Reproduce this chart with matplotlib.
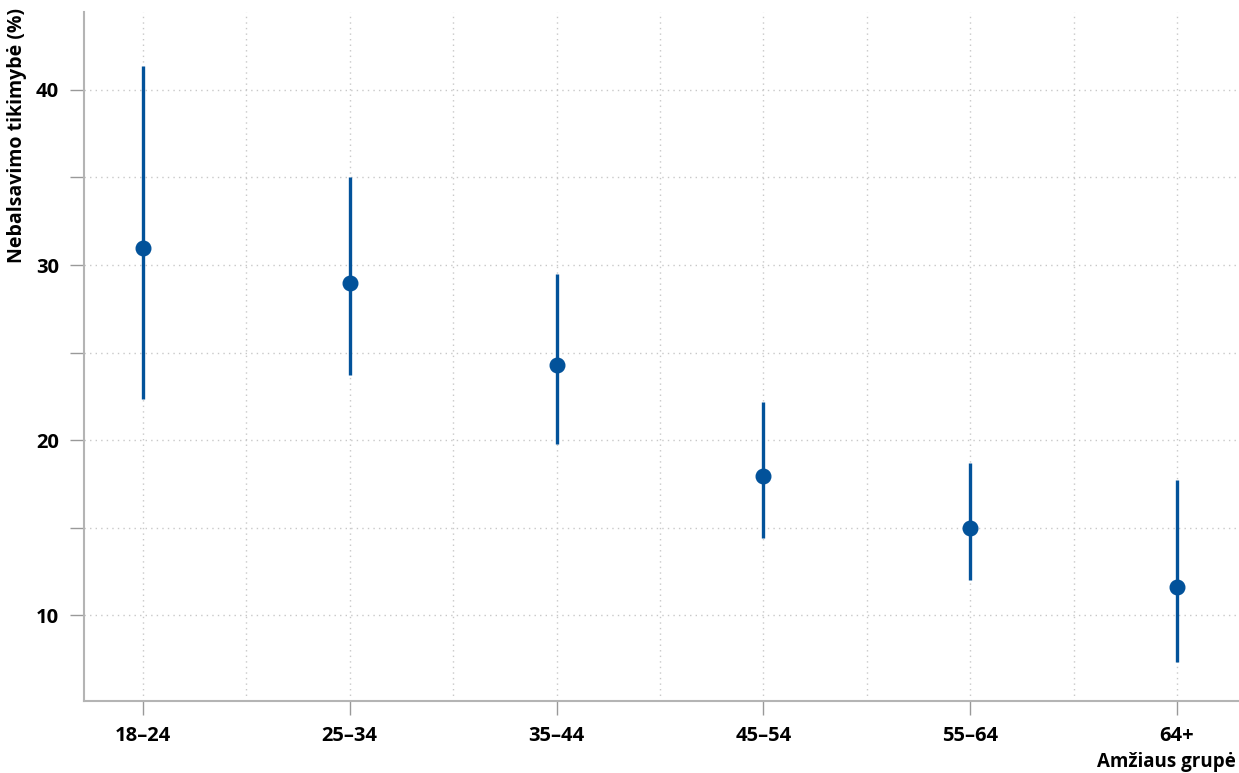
import matplotlib
matplotlib.use("Agg")
import matplotlib.pyplot as plt
from matplotlib.ticker import MultipleLocator
import numpy as np

plt.rcParams['font.family'] = ['Open Sans', 'DejaVu Sans']

groups = ['18–24', '25–34', '35–44', '45–54', '55–64', '64+']
estimate = [31.0, 29.0, 24.3, 17.95, 15.0, 11.6]
lower = [22.35, 23.7, 19.8, 14.4, 12.0, 7.35]
upper = [41.35, 35.0, 29.5, 22.2, 18.7, 17.7]

color = '#02529a'
grid_col = '#c8c8c8'
spine_col = '#b4b4b4'

fig = plt.figure(figsize=(12.39, 7.73), dpi=100)
ax = fig.add_axes([84 / 1239, 72 / 773, 1155 / 1239, 689 / 773])

x = np.arange(len(groups))
ax.vlines(x, lower, upper, color=color, lw=2.4, zorder=3)
ax.plot(x, estimate, 'o', color=color, ms=10.5, zorder=4)

ax.set_xlim(-0.285, 5.30)
ax.set_ylim(5.1, 44.45)
ax.set_xticks(x)
ax.set_xticklabels(groups)
ax.xaxis.set_minor_locator(MultipleLocator(0.5))
ax.yaxis.set_major_locator(MultipleLocator(10))
ax.yaxis.set_minor_locator(MultipleLocator(5))

ax.grid(which='both', color=grid_col, ls=(0, (1, 3)), lw=1)
ax.set_axisbelow(True)

for side in ['top', 'right']:
    ax.spines[side].set_visible(False)
for side in ['left', 'bottom']:
    ax.spines[side].set_color(spine_col)
    ax.spines[side].set_linewidth(1.5)

ax.tick_params(axis='both', which='major', length=10, color='#999999', width=1,
               labelsize=14.5, pad=8)
ax.tick_params(axis='x', which='minor', length=0)
ax.tick_params(axis='y', which='minor', length=10, color='#999999', width=1)
for lab in ax.get_xticklabels() + ax.get_yticklabels():
    lab.set_fontweight('bold')

fig.text(1236 / 1239, 1 / 773, 'Amžiaus grupė', ha='right', va='bottom',
         fontsize=13.5, fontweight='bold')
fig.text(7 / 1239, 1 - 8 / 773, 'Nebalsavimo tikimybė (%)', rotation=90,
         ha='left', va='top', fontsize=14, fontweight='bold')

fig.savefig('out.png', dpi=100)
